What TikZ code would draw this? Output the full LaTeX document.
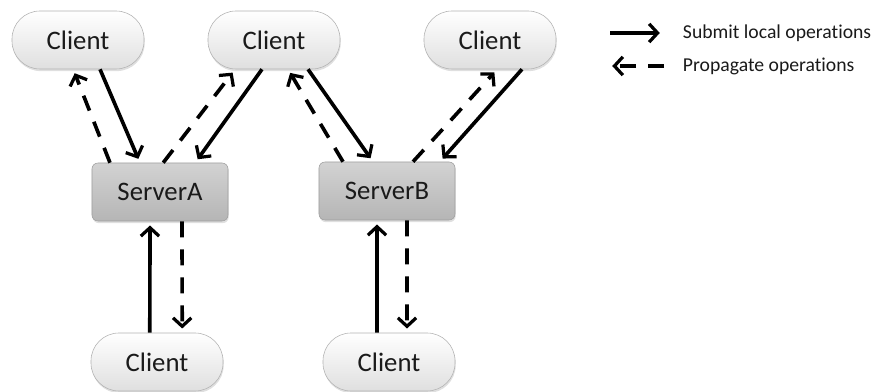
\documentclass[tikz,border=0pt]{standalone}
\usepackage{fontspec}
\setmainfont[Ligatures={NoCommon}]{Carlito}
\usetikzlibrary{arrows.meta,shadows}

\definecolor{txtgray}{HTML}{1A1A1A}
\tikzset{
  client/.style={draw=gray!60, rounded corners=0.7cm, minimum width=3.3cm, minimum height=1.45cm,
    top color=white, bottom color=gray!25, drop shadow={opacity=0.25,shadow xshift=0.5pt,shadow yshift=-1.5pt},
    text=txtgray, font=\fontsize{19}{21}\selectfont},
  server/.style={draw=gray!75, rounded corners=0.15cm, minimum width=3.4cm, minimum height=1.45cm,
    top color=gray!35, bottom color=gray!58, drop shadow={opacity=0.25,shadow xshift=0.5pt,shadow yshift=-1.5pt},
    text=txtgray, font=\fontsize{19}{21}\selectfont},
  submit/.style={line width=2.6pt, -{Straight Barb[length=6pt,width=13pt,line width=2.3pt]}, shorten >=3pt},
  propagate/.style={submit, dash pattern=on 4mm off 3mm},
  legend/.style={anchor=west, text=txtgray, font=\fontsize{14}{16}\selectfont},
}

\begin{document}
\begin{tikzpicture}[x=0.025cm,y=-0.025cm]
  \useasboundingbox (0,0) rectangle (886,392);

  % clients and servers
  \foreach \n/\x in {c1/78,c2/274,c3/490}
    \node[client] (\n) at (\x,40) {Client};
  \node[server] (sA) at (160,192) {ServerA};
  \node[server] (sB) at (387,191) {ServerB};
  \node[client] (bA) at (157,362) {Client};
  \node[client] (bB) at (389,362) {Client};

  % top clients <-> servers
  \draw[submit] ([xshift=0.55cm]c1.south) -- ([xshift=-0.5cm]sA.north);
  \draw[propagate] ([xshift=-1.25cm]sA.north) -- ([xshift=-0.12cm]c1.south);
  \draw[submit] ([xshift=-0.3cm]c2.south) -- ([xshift=0.88cm]sA.north);
  \draw[propagate] ([xshift=0.08cm]sA.north) -- ([xshift=-0.97cm]c2.south);
  \draw[propagate] ([xshift=-1.1cm]sB.north) -- ([xshift=0.35cm]c2.south);
  \draw[submit] ([xshift=0.85cm]c2.south) -- ([xshift=-0.35cm]sB.north);
  \draw[propagate] ([xshift=0.65cm]sB.north) -- ([xshift=0.18cm]c3.south);
  \draw[submit] ([xshift=0.8cm]c3.south) -- ([xshift=1.32cm]sB.north);

  % bottom clients <-> servers
  \draw[submit] ([xshift=-0.18cm]bA.north) -- ([xshift=-0.25cm]sA.south);
  \draw[propagate] ([xshift=0.55cm]sA.south) -- ([xshift=0.63cm]bA.north);
  \draw[submit] ([xshift=-0.3cm]bB.north) -- ([xshift=-0.25cm]sB.south);
  \draw[propagate] ([xshift=0.5cm]sB.south) -- ([xshift=0.45cm]bB.north);

  % legend
  \coordinate (k1a) at (610,33); \coordinate (k1b) at (664,33);
  \coordinate (k2a) at (664,66); \coordinate (k2b) at (608,66);
  \draw[submit] (k1a) -- (k1b);
  \draw[propagate] (k2a) -- (k2b);
  \node[legend] (t1) at (678,33) {Submit local operations};
  \node[legend] (t2) at (678,66) {Propagate operations};
\end{tikzpicture}
\end{document}
